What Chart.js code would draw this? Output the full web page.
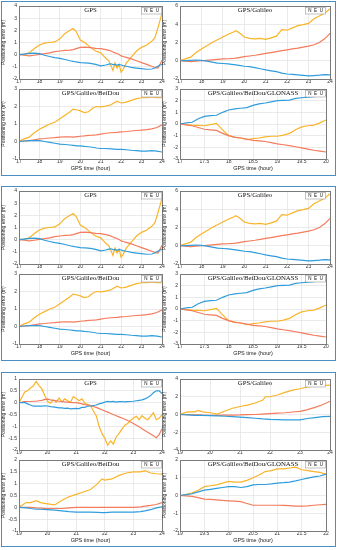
<!DOCTYPE html>
<html><head><meta charset="utf-8">
<script src="https://cdn.jsdelivr.net/npm/chart.js@4"></script>
<style>
html,body{margin:0;padding:0;background:#fff}
body{width:337px;height:550px;position:relative;overflow:hidden}
.frame{position:absolute;border:1.5px solid #4a8fc4;box-sizing:border-box}
canvas{position:absolute}
</style></head><body>
<div class="frame" style="left:1px;top:1px;width:335px;height:175px"></div>
<div class="frame" style="left:1px;top:186px;width:335px;height:175px"></div>
<div class="frame" style="left:1px;top:372px;width:335px;height:175px"></div>
<script>
// ---------- tick labels ----------
const xTicksA = [17,18,19,20,21,22,23,24];
const xTicksD = [17,17.5,18,18.5,19,19.5,20];
const xTicksE = [19,20,21,22,23,24];
const xTicksH = [19,19.5,20,20.5,21,21.5,22];
const yTicksA = [-2,-1,0,1,2,3,4];
const yTicksB = [-2,0,2,4,6];
const yTicksC = [-1,0,1,2,3];
const yTicksD = [-3,-2,-1,0,1,2,3];
const yTicksE = [-2,-1.5,-1,-0.5,0,0.5,1];
const yTicksF = [-4,-2,0,2,4];
const yTicksG = [-1,-0.5,0,0.5,1,1.5,2];
const yTicksH = [-2,-1,0,1,2];
const seriesNames = ['N','E','U'];
const titles = ['GPS','GPS/Galileo','GPS/Galileo/BeiDou','GPS/Galileo/BeiDou/GLONASS'];

// ---------- GPS (17-24 h) ----------
const tA = [17,17.25,17.5,17.75,18,18.25,18.5,18.75,19,19.25,19.5,19.65,19.8,20,20.25,20.5,20.75,21,21.25,21.4,21.5,21.6,21.7,21.8,21.9,22,22.1,22.25,22.5,22.75,23,23.25,23.5,23.65,23.8,23.9,24];
const nA = [0,0.05,0.1,0.12,0.08,-0.05,-0.15,-0.25,-0.3,-0.4,-0.5,-0.55,-0.6,-0.65,-0.68,-0.72,-0.8,-0.92,-0.85,-0.78,-0.75,-0.82,-0.8,-0.88,-0.8,-0.85,-0.9,-0.95,-1.05,-1.1,-1.15,-1.2,-1.18,-1.1,-0.95,-0.85,-0.8];
const eA = [0,-0.05,-0.1,-0.05,0.02,0.08,0.15,0.25,0.3,0.35,0.38,0.42,0.5,0.6,0.62,0.58,0.52,0.5,0.42,0.35,0.3,0.22,0.15,0.1,0.02,-0.1,-0.15,-0.22,-0.35,-0.5,-0.65,-0.8,-0.95,-1.05,-1.1,-0.8,-0.45];
const uA = [0,0.05,0.15,0.5,0.8,0.95,1.0,1.05,1.3,1.75,2.0,2.15,1.9,1.2,0.95,0.6,0.3,0.15,-0.3,-0.5,-0.9,-1.3,-0.7,-1.1,-0.8,-1.45,-1.2,-0.7,-0.2,0.3,0.6,0.8,1.1,1.4,2.2,2.8,3.4];

// ---------- GPS/Galileo (17-24 h) ----------
const tB = [17,17.25,17.5,17.75,18,18.25,18.5,18.75,19,19.25,19.5,19.6,19.75,20,20.25,20.5,20.75,21,21.25,21.5,21.75,22,22.25,22.5,22.75,23,23.25,23.5,23.75,24];
const nB = [0,0.02,0.05,0.08,0.05,-0.05,-0.15,-0.25,-0.3,-0.35,-0.42,-0.45,-0.5,-0.6,-0.65,-0.75,-0.88,-1.0,-1.1,-1.2,-1.35,-1.45,-1.5,-1.55,-1.6,-1.65,-1.62,-1.58,-1.52,-1.55];
const eB = [0,-0.05,-0.1,-0.05,0,0.05,0.1,0.15,0.2,0.22,0.25,0.28,0.35,0.45,0.52,0.6,0.7,0.8,0.9,1.0,1.1,1.2,1.3,1.38,1.5,1.6,1.75,2.0,2.4,3.0];
const uB = [0,0.2,0.4,0.9,1.3,1.65,2.0,2.3,2.6,2.9,3.15,3.3,3.1,2.6,2.45,2.4,2.45,2.35,2.5,2.7,3.4,3.35,3.6,3.85,3.95,4.1,4.6,4.9,5.2,5.7];

// ---------- GPS/Galileo/BeiDou (17-24 h) ----------
const tC = [17,17.25,17.5,17.75,18,18.25,18.5,18.75,19,19.25,19.5,19.65,19.85,20,20.2,20.4,20.6,20.8,21,21.25,21.5,21.8,22,22.25,22.5,22.75,23,23.25,23.5,23.75,24];
const nC = [0,0.03,0.05,0.05,0.05,0,-0.05,-0.1,-0.15,-0.17,-0.2,-0.22,-0.25,-0.25,-0.28,-0.3,-0.33,-0.37,-0.4,-0.4,-0.42,-0.45,-0.45,-0.47,-0.5,-0.52,-0.55,-0.55,-0.52,-0.55,-0.6];
const eC = [0,0.03,0.05,0.1,0.15,0.17,0.2,0.22,0.25,0.27,0.26,0.25,0.28,0.3,0.32,0.35,0.36,0.38,0.42,0.47,0.5,0.52,0.55,0.57,0.6,0.63,0.65,0.68,0.72,0.8,0.95];
const uC = [0,0.15,0.25,0.5,0.7,0.85,1.0,1.1,1.3,1.5,1.7,1.85,1.8,1.75,1.65,1.7,1.9,2.0,1.98,2.02,2.1,2.3,2.2,2.25,2.35,2.45,2.5,2.5,2.55,2.5,2.5];

// ---------- GPS/Galileo/BeiDou/GLONASS (17-20 h) ----------
const tD = [17,17.125,17.25,17.375,17.5,17.625,17.75,17.875,18,18.125,18.25,18.375,18.5,18.625,18.75,18.875,19,19.125,19.25,19.375,19.5,19.625,19.75,19.875,20];
const nD = [0,0.1,0.15,0.45,0.65,0.72,0.75,1.0,1.2,1.3,1.35,1.4,1.6,1.72,1.8,1.9,2.0,2.02,2.05,2.2,2.25,2.3,2.35,2.4,2.45];
const eD = [0,-0.08,-0.15,-0.3,-0.45,-0.5,-0.55,-0.8,-1.0,-1.15,-1.2,-1.3,-1.4,-1.45,-1.5,-1.6,-1.7,-1.78,-1.85,-1.95,-2.05,-2.15,-2.25,-2.32,-2.4];
const uD = [0,-0.05,-0.1,-0.12,-0.15,-0.05,0.05,-0.5,-1.0,-1.12,-1.2,-1.35,-1.25,-1.2,-1.1,-1.05,-1.05,-0.95,-0.8,-0.5,-0.25,-0.15,-0.1,0.1,0.35];

// ---------- third figure: GPS (19-24 h) ----------
const tE = [19,19.1,19.2,19.3,19.4,19.5,19.6,19.7,19.8,19.9,20,20.1,20.2,20.3,20.4,20.5,20.6,20.7,20.8,20.9,21,21.1,21.2,21.3,21.4,21.5,21.6,21.7,21.8,21.9,22,22.1,22.2,22.3,22.4,22.5,22.6,22.7,22.8,22.9,23,23.1,23.2,23.3,23.4,23.5,23.6,23.7,23.8,23.9,24];
const nE = [0,0,0.01,-0.05,-0.1,-0.15,-0.15,-0.14,-0.15,-0.13,-0.14,-0.17,-0.18,-0.2,-0.22,-0.22,-0.24,-0.23,-0.26,-0.25,-0.24,-0.25,-0.2,-0.2,-0.15,-0.14,-0.12,-0.1,-0.05,-0.02,0.02,0.05,0.03,0.05,0.02,0.04,0.05,0.03,0.04,0.05,0.06,0.08,0.1,0.12,0.16,0.22,0.3,0.42,0.5,0.5,0.38];
const eE = [0,0.02,0.05,0.05,0.05,0.06,0.06,0.08,0.1,0.14,0.15,0.12,0.1,0.08,0.06,0.05,0.03,0.02,0.01,0,0,-0.02,-0.05,-0.08,-0.1,-0.12,-0.16,-0.2,-0.25,-0.3,-0.35,-0.4,-0.45,-0.5,-0.55,-0.6,-0.65,-0.7,-0.75,-0.82,-0.88,-0.95,-1.02,-1.1,-1.18,-1.25,-1.32,-1.4,-1.48,-1.35,-1.1];
const uE = [0,0.22,0.45,0.5,0.62,0.7,0.9,0.72,0.58,0.3,0.05,-0.02,0.12,0.02,0.2,0.03,0.16,0.08,0.02,0.26,0.18,0.08,0.16,-0.02,-0.08,-0.12,-0.35,-0.55,-1.0,-1.3,-1.5,-1.8,-1.62,-1.75,-1.45,-1.3,-1.12,-0.95,-0.88,-0.75,-0.65,-0.58,-0.72,-0.55,-0.66,-0.72,-0.58,-0.42,-0.72,-0.66,-0.5];

// ---------- third figure: GPS/Galileo (19-24 h) ----------
const tF = [19,19.25,19.5,19.6,19.75,20,20.25,20.5,20.75,21,21.25,21.5,21.75,21.85,22,22.25,22.5,22.75,23,23.25,23.5,23.75,24];
const nF = [0,-0.05,-0.1,-0.1,-0.1,-0.12,-0.15,-0.2,-0.25,-0.3,-0.35,-0.42,-0.5,-0.52,-0.55,-0.58,-0.6,-0.6,-0.6,-0.45,-0.35,-0.25,-0.2];
const eF = [0,-0.02,-0.05,-0.05,-0.08,-0.1,-0.1,-0.08,-0.06,-0.05,-0.02,0,0.05,0.07,0.1,0.15,0.2,0.28,0.35,0.55,0.8,1.1,1.5];
const uF = [0,0.3,0.3,0.45,0.3,0.2,0.05,0.4,0.7,0.9,1.05,1.3,1.6,2.0,2.0,2.2,2.5,2.75,2.9,3.1,3.2,3.25,3.3];

// ---------- third figure: GPS/Galileo/BeiDou (19-24 h) ----------
const tG = [19,19.25,19.4,19.6,19.75,20,20.25,20.5,20.75,21,21.25,21.5,21.75,21.9,22,22.25,22.5,22.75,23,23.25,23.4,23.6,23.8,24];
const nG = [0,-0.02,-0.05,-0.08,-0.08,-0.1,-0.12,-0.15,-0.18,-0.2,-0.2,-0.2,-0.21,-0.22,-0.22,-0.2,-0.2,-0.2,-0.2,-0.18,-0.15,-0.1,-0.02,0.02];
const eG = [0,0,0,-0.02,-0.03,-0.05,-0.05,-0.05,-0.02,0,0,0,0,0,0,0,0,0,0,0.02,0.05,0.08,0.12,0.2];
const uG = [0,0.2,0.2,0.28,0.2,0.15,0.1,0.3,0.45,0.55,0.65,0.75,1.0,1.2,1.15,1.2,1.35,1.45,1.5,1.5,1.55,1.45,1.42,1.4];

// ---------- third figure: GPS/Galileo/BeiDou/GLONASS (19-22 h) ----------
const tH = [19,19.125,19.25,19.375,19.5,19.625,19.75,19.875,20,20.125,20.25,20.375,20.5,20.625,20.75,20.875,21,21.125,21.25,21.375,21.5,21.625,21.75,21.875,22];
const nH = [0,0.05,0.1,0.2,0.3,0.35,0.4,0.45,0.5,0.5,0.45,0.5,0.6,0.62,0.62,0.65,0.7,0.72,0.75,0.82,0.9,0.98,1.05,1.1,1.2];
const eH = [0,-0.02,-0.05,-0.12,-0.2,-0.22,-0.25,-0.28,-0.3,-0.32,-0.35,-0.45,-0.55,-0.55,-0.55,-0.55,-0.55,-0.56,-0.57,-0.6,-0.6,-0.58,-0.55,-0.52,-0.5];
const uH = [0,0.05,0.15,0.3,0.5,0.55,0.6,0.7,0.8,0.75,0.75,0.85,1.0,1.15,1.35,1.4,1.5,1.5,1.55,1.6,1.45,1.4,1.35,1.3,1.2];

const COLORS = ['#2f9ddc','#f47b5c','#f9b428'];

const overlay = {
  id:'overlay',
  afterDraw(chart, args, opts){
    const ctx = chart.ctx, a = chart.chartArea;
    ctx.save();
    ctx.strokeStyle = '#7a7a7a'; ctx.lineWidth = 1;
    ctx.strokeRect(Math.round(a.left)+0.5, Math.round(a.top)+0.5, Math.round(a.right-a.left), Math.round(a.bottom-a.top));
    // title
    ctx.fillStyle = '#111';
    ctx.font = '6.8px "Liberation Serif", "Times New Roman", serif';
    ctx.textAlign = 'center'; ctx.textBaseline = 'middle';
    ctx.fillText(opts.title, (a.left+a.right)/2, a.top + 4.5);
    // legend box
    const bw = 20, bh = 6.5, bx = a.right - bw - 0.5 - (opts.inset||0), by = a.top + 1.5;
    ctx.fillStyle = '#fff'; ctx.fillRect(bx, by, bw, bh);
    ctx.strokeStyle = '#9a9a9a'; ctx.lineWidth = 0.6; ctx.strokeRect(bx, by, bw, bh);
    ctx.fillStyle = '#111';
    ctx.font = '4.5px "Liberation Sans", Arial, sans-serif';
    seriesNames.forEach((s,i)=>ctx.fillText(s, bx + 4.3 + i*5.8, by + bh/2 + 0.3));
    ctx.restore();
  }
};

function mk(g, t, n, e, u, xT, yT, title, bottom, inset){
  const yw = 19, pt = 4, pr = 3, xh = bottom ? 13 : 8;
  const W = (g[1]-g[0]) + yw + pr, H = (g[3]-g[2]) + pt + xh;
  const cv = document.createElement('canvas');
  cv.width = W; cv.height = H;
  cv.style.width = W+'px'; cv.style.height = H+'px';
  cv.style.left = (g[0]-yw)+'px'; cv.style.top = (g[2]-pt)+'px';
  document.body.appendChild(cv);
  const mkData = vals => t.map((x,i)=>({x:x, y:vals[i]}));
  const tickFont = {size:5, family:'"Liberation Sans", Arial, sans-serif'};
  new Chart(cv, {
    type:'line',
    data:{datasets:[n,e,u].map((v,i)=>({label:seriesNames[i], data:mkData(v), borderColor:COLORS[i], borderWidth:1.2, pointRadius:0, tension:0, fill:false}))},
    options:{
      responsive:false, animation:false, devicePixelRatio:1,
      layout:{padding:{top:pt, right:pr, left:0, bottom:0}},
      plugins:{legend:{display:false}, tooltip:{enabled:false}, overlay:{title:title, inset:inset||0}},
      scales:{
        x:{type:'linear', min:xT[0], max:xT[xT.length-1],
           afterBuildTicks:s=>{s.ticks = xT.map(v=>({value:v}));},
           afterFit:s=>{s.height = xh;},
           ticks:{font:tickFont, color:'#333', padding:0, maxRotation:0, autoSkip:false, callback:v=>String(v)},
           grid:{color:'#e4e4e4', drawTicks:false, lineWidth:0.8},
           border:{color:'#7a7a7a'},
           title:{display:!!bottom, text:'GPS time (hour)', color:'#222', font:{size:5.5, family:'"Liberation Sans", Arial, sans-serif'}, padding:{top:0,bottom:0}}},
        y:{type:'linear', min:yT[0], max:yT[yT.length-1],
           afterBuildTicks:s=>{s.ticks = yT.map(v=>({value:v}));},
           afterFit:s=>{s.width = yw;},
           ticks:{font:tickFont, color:'#333', padding:2, autoSkip:false, callback:v=>String(v)},
           grid:{color:'#e4e4e4', drawTicks:false, lineWidth:0.8},
           border:{color:'#7a7a7a'},
           title:{display:true, text:'Positioning error (m)', color:'#222', font:{size:5, family:'"Liberation Sans", Arial, sans-serif'}, padding:{top:1,bottom:0}}}
      }
    },
    plugins:[overlay]
  });
}

// figure 1 and figure 2 (same data)
[0,185].forEach(off=>{
  mk([19,162,5+off,79+off], tA, nA, eA, uA, xTicksA, yTicksA, titles[0], false, 0);
  mk([180,330,5+off,79+off], tB, nB, eB, uB, xTicksA, yTicksB, titles[1], false, 4);
  mk([19,162,88+off,159+off], tC, nC, eC, uC, xTicksA, yTicksC, titles[2], true, 0);
  mk([180,326,88+off,159+off], tD, nD, eD, uD, xTicksD, yTicksD, titles[3], true, 0);
});
// figure 3
mk([19,162,378,450], tE, nE, eE, uE, xTicksE, yTicksE, titles[0], false, 0);
mk([180,330,378,450], tF, nF, eF, uF, xTicksE, yTicksF, titles[1], false, 4);
mk([19,162,459,531], tG, nG, eG, uG, xTicksE, yTicksG, titles[2], true, 0);
mk([180,326,459,531], tH, nH, eH, uH, xTicksH, yTicksH, titles[3], true, 0);
</script>
</body></html>
